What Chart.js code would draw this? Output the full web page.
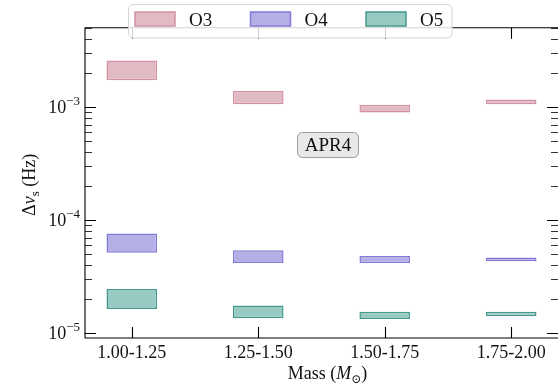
<!DOCTYPE html>
<html><head><meta charset="utf-8">
<script src="https://cdn.jsdelivr.net/npm/chart.js@4.4.1/dist/chart.umd.min.js"></script>
<style>
html,body{margin:0;padding:0;background:#fff;overflow:hidden;}
#wrap{position:relative;width:558px;height:385px;}
canvas{display:block;}
</style></head><body>
<div id="wrap"><canvas id="c" width="558" height="385"></canvas></div>
<script>
// ---- data ----
const categories = ['1.00-1.25', '1.25-1.50', '1.50-1.75', '1.75-2.00'];
const seriesNames = ['O3', 'O4', 'O5'];
const o3Low  = [1.73e-3, 1.06e-3, 8.97e-4, 1.06e-3];
const o3High = [2.59e-3, 1.39e-3, 1.048e-3, 1.17e-3];
const o4Low  = [5.17e-5, 4.19e-5, 4.16e-5, 4.34e-5];
const o4High = [7.62e-5, 5.43e-5, 4.83e-5, 4.68e-5];
const o5Low  = [1.64e-5, 1.36e-5, 1.34e-5, 1.42e-5];
const o5High = [2.47e-5, 1.76e-5, 1.55e-5, 1.55e-5];
const yMajorTicks = [1e-5, 1e-4, 1e-3];
const yTickLabels = [['10', '\u22125'], ['10', '\u22124'], ['10', '\u22123']];
const annotationText = 'APR4';

// ---- styles ----
const fills   = ['rgba(226,186,196,1)', 'rgba(180,176,230,1)', 'rgba(152,202,196,1)'];
const borders = ['rgba(210,146,164,1)', 'rgba(130,122,214,1)', 'rgba(68,152,140,1)'];
const FONT = '"Liberation Serif","DejaVu Serif",serif';
const yMin = 9.1e-6, yMax = 5.04e-3;
const xMin = -0.37, xMax = 3.37;

const lows = [o3Low, o4Low, o5Low];
const highs = [o3High, o4High, o5High];

const datasets = seriesNames.map((name, s) => ({
  label: name,
  data: categories.map((c, i) => ({ x: i, y: [lows[s][i], highs[s][i]] })),
  backgroundColor: fills[s],
  borderColor: borders[s],
  borderWidth: 1.5,
  borderSkipped: false,
  grouped: false,
  barPercentage: 0.4,
  categoryPercentage: 1.0
}));

function richText(ctx, segs, x, y, align) {
  let w = 0;
  segs.forEach(s => { ctx.font = s.font; s.w = ctx.measureText(s.t).width; w += s.w; });
  let cx = align === 'center' ? x - w / 2 : (align === 'right' ? x - w : x);
  segs.forEach(s => {
    ctx.font = s.font;
    ctx.fillText(s.t, cx, y + (s.dy || 0));
    cx += s.w;
  });
}

const frame = {
  id: 'frame',
  afterDatasetsDraw(chart) {
    const { ctx, chartArea: a, scales: { x, y } } = chart;
    ctx.save();
    ctx.strokeStyle = '#000';
    ctx.lineWidth = 1.1;
    ctx.beginPath();
    ctx.moveTo(a.right, a.top); ctx.lineTo(a.left, a.top);
    ctx.lineTo(a.left, a.bottom); ctx.lineTo(a.right, a.bottom);
    ctx.stroke();
    yMajorTicks.forEach(v => {
      const py = Math.round(y.getPixelForValue(v)) + 0.5;
      ctx.beginPath();
      ctx.moveTo(a.left, py); ctx.lineTo(a.left + 11, py);
      ctx.moveTo(a.right, py); ctx.lineTo(a.right - 11, py);
      ctx.stroke();
    });
    ctx.lineWidth = 0.8;
    for (let e = -6; e <= -2; e++) {
      for (let k = 2; k <= 9; k++) {
        const v = k * Math.pow(10, e);
        if (v < yMin || v > yMax) continue;
        const py = Math.round(y.getPixelForValue(v)) + 0.5;
        ctx.beginPath();
        ctx.moveTo(a.left, py); ctx.lineTo(a.left + 7, py);
        ctx.moveTo(a.right, py); ctx.lineTo(a.right - 7, py);
        ctx.stroke();
      }
    }
    ctx.lineWidth = 1.1;
    categories.forEach((c, i) => {
      const px = Math.round(x.getPixelForValue(i)) + 0.5;
      ctx.beginPath();
      ctx.moveTo(px, a.bottom); ctx.lineTo(px, a.bottom - 11);
      ctx.moveTo(px, a.top); ctx.lineTo(px, a.top + 11);
      ctx.stroke();
    });
    ctx.fillStyle = '#111';
    ctx.textBaseline = 'alphabetic';
    ctx.font = '18px ' + FONT;
    ctx.textAlign = 'center';
    categories.forEach((c, i) => {
      ctx.fillText(c, x.getPixelForValue(i), a.bottom + 20);
    });
    ctx.textAlign = 'left';
    yMajorTicks.forEach((v, j) => {
      const py = y.getPixelForValue(v);
      richText(ctx, [
        { t: yTickLabels[j][0], font: '18px ' + FONT },
        { t: yTickLabels[j][1], font: '13px ' + FONT, dy: -8 }
      ], a.left - 5, py + 6, 'right');
    });
    const cxm = (a.left + a.right) / 2 + 6;
    richText(ctx, [
      { t: 'Mass (', font: '18px ' + FONT },
      { t: 'M', font: 'italic 18px ' + FONT },
      { t: '\u2299', font: '12px ' + FONT, dy: 4 },
      { t: ')', font: '18px ' + FONT }
    ], cxm, a.bottom + 41, 'center');
    ctx.save();
    ctx.translate(35, (a.top + a.bottom) / 2 + 2);
    ctx.rotate(-Math.PI / 2);
    richText(ctx, [
      { t: '\u0394', font: '18px ' + FONT },
      { t: '\u03BD', font: 'italic 18px ' + FONT },
      { t: 's', font: '13px ' + FONT, dy: 4 },
      { t: ' (Hz)', font: '18px ' + FONT }
    ], 0, 0, 'center');
    ctx.restore();
    const bx = 297.5, by = 132.5, bw = 61, bh = 25;
    ctx.beginPath();
    ctx.roundRect(bx, by, bw, bh, 5);
    ctx.fillStyle = 'rgba(232,232,232,1)';
    ctx.fill();
    ctx.strokeStyle = '#9a9a9a';
    ctx.lineWidth = 1;
    ctx.stroke();
    ctx.fillStyle = '#111';
    ctx.font = '19px ' + FONT;
    ctx.textAlign = 'center';
    ctx.textBaseline = 'middle';
    ctx.fillText(annotationText, bx + bw / 2, by + bh / 2 + 1);
    ctx.restore();
  },
  afterDraw(chart) {
    const { ctx } = chart;
    ctx.save();
    ctx.beginPath();
    ctx.roundRect(128.5, 4.5, 323.5, 33.5, 5);
    ctx.fillStyle = 'rgba(255,255,255,0.82)';
    ctx.fill();
    ctx.strokeStyle = '#d4d4d4';
    ctx.lineWidth = 1;
    ctx.stroke();
    const sx = [135, 250.5, 366];
    seriesNames.forEach((n, s) => {
      ctx.fillStyle = fills[s];
      ctx.fillRect(sx[s], 12, 40, 14);
      ctx.strokeStyle = borders[s];
      ctx.lineWidth = 1.5;
      ctx.strokeRect(sx[s], 12, 40, 14);
      ctx.fillStyle = '#111';
      ctx.font = '19px ' + FONT;
      ctx.textAlign = 'left';
      ctx.textBaseline = 'alphabetic';
      ctx.fillText(n, sx[s] + 54, 26);
    });
    ctx.restore();
  }
};

new Chart(document.getElementById('c'), {
  type: 'bar',
  data: { datasets },
  options: {
    responsive: false,
    animation: false,
    layout: { padding: { left: 85, right: -2.3, top: 27.7, bottom: 47 } },
    plugins: { legend: { display: false }, tooltip: { enabled: false } },
    scales: {
      x: {
        type: 'linear', min: xMin, max: xMax, display: false, offset: false,
        ticks: { stepSize: 1, includeBounds: false }
      },
      y: { type: 'logarithmic', min: yMin, max: yMax, display: false }
    }
  },
  plugins: [frame]
});
</script>
</body></html>
